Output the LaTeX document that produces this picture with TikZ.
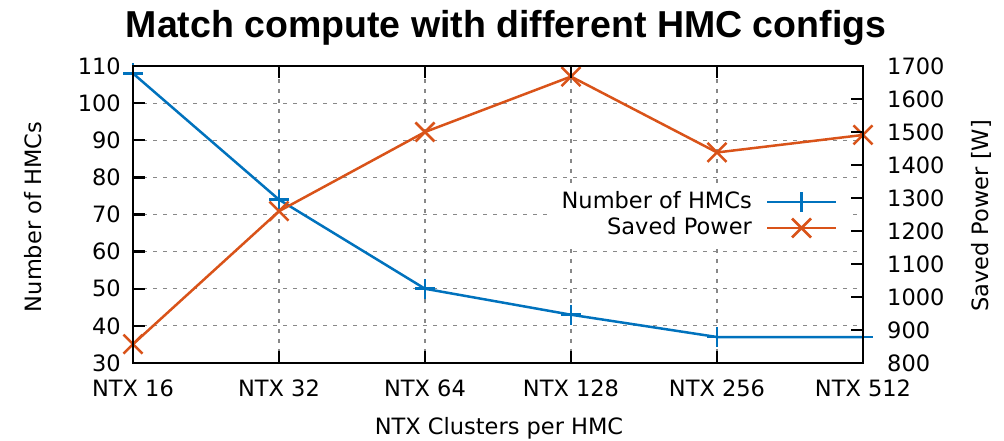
\documentclass[tikz,border=0pt]{standalone}
\usepackage{fontspec}
\setmainfont{DejaVu Sans}
\newfontfamily\titlefont{Liberation Sans}
\definecolor{hmcblue}{HTML}{0072BD}
\definecolor{powerorange}{HTML}{D95319}
\definecolor{gridgray}{HTML}{888888}

\begin{document}
\begin{tikzpicture}[x=1pt,y=1pt,
  frame/.style={line width=2.6pt, black, line join=miter},
  tickmark/.style={line width=2.4pt, black},
  gridline/.style={gridgray, line width=1.2pt, dash pattern=on 4pt off 6pt},
  label/.style={font=\fontsize{22.5}{26}\selectfont, inner sep=0pt},
  series/.style={line width=2.5pt, line join=round},
  hmcline/.style={series, hmcblue},
  powerline/.style={series, powerorange},
]
\useasboundingbox (0,0) rectangle (1004,441);

% plot area: x from 133 to 863, y from 78 to 375
\def\xa{133}\def\xb{863}\def\ya{78}\def\yb{375}

% grid
\foreach \v in {40,50,...,100}
  \draw[gridline] (\xa,{78+(\v-30)*3.7125}) -- (\xb,{78+(\v-30)*3.7125});
\foreach \i in {1,...,4}
  \draw[gridline] ({133+146*\i},\ya) -- ({133+146*\i},\yb);

% legend background
\fill[white] (547,196) rectangle (852,255);

% data points
\foreach \v [count=\i from 0] in {108,74,50,43,37,37}
  \coordinate (b\i) at ({133+146*\i},{78+(\v-30)*3.7125});
\foreach \p [count=\i from 0] in {857,1260,1500,1668,1438,1491}
  \coordinate (p\i) at ({133+146*\i},{78+(\p-800)*0.33});

% series
\draw[hmcline] (b0) -- (b1) -- (b2) -- (b3) -- (b4) -- (b5);
\foreach \i in {0,...,5}
  \draw[hmcblue, line width=2.5pt] ([xshift=-10pt]b\i) -- ([xshift=10pt]b\i)
        ([yshift=-10pt]b\i) -- ([yshift=10pt]b\i);
\draw[powerline] (p0) -- (p1) -- (p2) -- (p3) -- (p4) -- (p5);
\foreach \i in {0,...,5}
  \draw[powerorange, line width=2.5pt] ([shift={(-9.5pt,-9.5pt)}]p\i) -- ([shift={(9.5pt,9.5pt)}]p\i)
        ([shift={(-9.5pt,9.5pt)}]p\i) -- ([shift={(9.5pt,-9.5pt)}]p\i);

% legend
\node[label, anchor=base east] (lgb) at (752,232) {Number of HMCs};
\node[label, anchor=base east] (lgp) at (752,206) {Saved Power};
\coordinate (lgb1) at (767,239); \coordinate (lgb2) at (836,239);
\coordinate (lgbm) at (801.5,239);
\coordinate (lgp1) at (767,213); \coordinate (lgp2) at (836,213);
\coordinate (lgpm) at (801.5,213);
\draw[hmcline] (lgb1) -- (lgb2);
\draw[hmcblue, line width=2.5pt] ([yshift=-10pt]lgbm) -- ([yshift=10pt]lgbm);
\draw[powerline] (lgp1) -- (lgp2);
\draw[powerorange, line width=2.5pt] ([shift={(-9.5pt,-9.5pt)}]lgpm) -- ([shift={(9.5pt,9.5pt)}]lgpm)
      ([shift={(-9.5pt,9.5pt)}]lgpm) -- ([shift={(9.5pt,-9.5pt)}]lgpm);

% tick marks
\foreach \v in {30,40,...,110}
  \draw[tickmark] (\xa,{78+(\v-30)*3.7125}) -- ++(12,0);
\foreach \p in {800,900,...,1700}
  \draw[tickmark] (\xb,{78+(\p-800)*0.33}) -- ++(-12,0);
\foreach \i in {0,...,5} {
  \draw[tickmark] ({133+146*\i},\ya) -- ++(0,12);
  \draw[tickmark] ({133+146*\i},\yb) -- ++(0,-12);
}

% frame
\draw[frame] (\xa,\ya) rectangle (\xb,\yb);

% tick labels
\foreach \v in {30,40,...,110}
  \node[label, anchor=east] (ly\v) at (121,{78+(\v-30)*3.7125}) {\v};
\foreach \p in {800,900,...,1700}
  \node[label, anchor=west] (ry\p) at (887,{78+(\p-800)*0.33}) {\p};
\foreach \t [count=\i from 0] in {16,32,64,128,256,512}
  \node[label, anchor=base] (xt\i) at ({133+146*\i},44) {NTX \t};

% axis titles
\node[label, rotate=90] (ylab) at (33,224) {Number of HMCs};
\node[label, rotate=90] (y2lab) at (981,225) {Saved Power [W]};
\node[label] (xlab) at (499,13) {NTX Clusters per HMC};
\node[inner sep=0pt, anchor=base, font=\titlefont\bfseries\fontsize{37.5}{40}\selectfont] (title)
  at (506,403) {Match compute with different HMC configs};
\end{tikzpicture}
\end{document}
